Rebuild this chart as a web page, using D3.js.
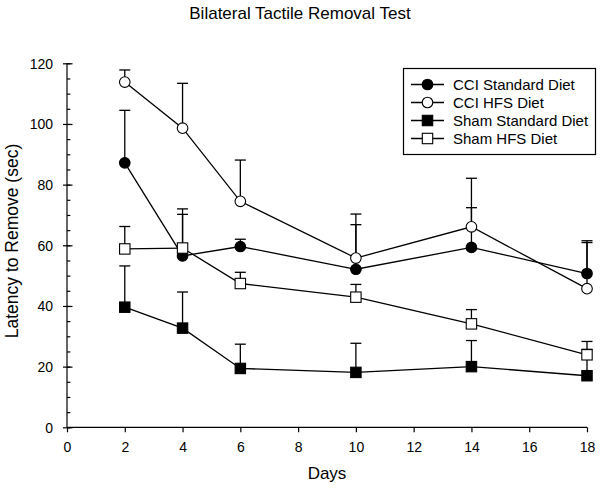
<!DOCTYPE html>
<html><head><meta charset="utf-8">
<script src="https://cdn.jsdelivr.net/npm/d3@7"></script>
<style>body{margin:0;background:#fff}svg{display:block;font-family:"Liberation Sans",Arial,sans-serif}</style>
</head><body><svg id="c" width="601" height="490"></svg>
<script>
const days = [2, 4, 6, 10, 14, 18];
const cciStandard = [87.2, 56.5, 59.6, 52.1, 59.3, 50.7];
const cciStandardErr = [17.3, 15.5, 2.4, 14.7, 13.1, 10.2];
const cciHfs = [113.8, 98.6, 74.5, 55.8, 66.1, 45.7];
const cciHfsErr = [4.0, 14.8, 13.6, 14.5, 16.0, 15.8];
const shamStandard = [39.6, 32.7, 19.4, 18.1, 20.0, 17.0];
const shamStandardErr = [13.6, 11.9, 8.0, 9.6, 8.6, 8.7];
const shamHfs = [58.8, 59.1, 47.4, 42.9, 34.1, 23.9];
const shamHfsErr = [7.4, 11.1, 3.7, 4.2, 4.7, 4.4];
const seriesNames = ["CCI Standard Diet", "CCI HFS Diet", "Sham Standard Diet", "Sham HFS Diet"];
const xTicks = [0, 2, 4, 6, 8, 10, 12, 14, 16, 18];
const yTicks = [0, 20, 40, 60, 80, 100, 120];
const yMinorTicks = d3.range(0, 121, 5);

const series = [
  {name: seriesNames[0], vals: cciStandard, err: cciStandardErr, shape: "circle", fill: "#000"},
  {name: seriesNames[1], vals: cciHfs, err: cciHfsErr, shape: "circle", fill: "#fff"},
  {name: seriesNames[2], vals: shamStandard, err: shamStandardErr, shape: "square", fill: "#000"},
  {name: seriesNames[3], vals: shamHfs, err: shamHfsErr, shape: "square", fill: "#fff"}
];

const svg = d3.select("#c");
const x = d3.scaleLinear().domain([0, 18]).range([67, 587]);
const y = d3.scaleLinear().domain([0, 120]).range([427.3, 63.3]);

// title
svg.append("text").attr("x", 300).attr("y", 19).attr("text-anchor", "middle")
  .attr("font-size", 17).text("Bilateral Tactile Removal Test");

// axes
const gx = svg.append("g").attr("transform", `translate(0,${y(0)})`)
  .call(d3.axisBottom(x).tickValues(xTicks).tickSize(5).tickPadding(10).tickFormat(d3.format("d")));
gx.select(".domain").attr("d", `M${x(0)},0H${x(18)}`);
gx.selectAll("text").attr("font-size", 14).attr("font-family", "Liberation Sans, Arial, sans-serif").attr("fill", "#000");

const gy = svg.append("g").attr("transform", `translate(${x(0)},0)`);
gy.call(d3.axisLeft(y).tickValues(yMinorTicks).tickSize(-3.3).tickFormat(""));
gy.select(".domain").remove();
const gy2 = svg.append("g").attr("transform", `translate(${x(0)},0)`)
  .call(d3.axisLeft(y).tickValues(yTicks).tickSize(4).tickPadding(10).tickFormat(d3.format("d")));
gy2.select(".domain").attr("d", `M0,${y(0)}V${y(120)}`);
gy2.selectAll(".tick line").attr("x2", 5.5).attr("x1", -4);
gy2.selectAll("text").attr("font-size", 14).attr("font-family", "Liberation Sans, Arial, sans-serif").attr("fill", "#000").attr("dy", "0.35em");
svg.selectAll(".tick line, .domain").attr("stroke", "#000").attr("stroke-width", 1.2);

// axis labels
svg.append("text").attr("x", 327).attr("y", 479).attr("text-anchor", "middle")
  .attr("font-size", 17).text("Days");
svg.append("text").attr("transform", `translate(18,241) rotate(-90)`).attr("text-anchor", "middle")
  .attr("font-size", 17.5).text("Latency to Remove (sec)");

const line = d3.line().x(d => x(d[0])).y(d => y(d[1]));

// lines
series.forEach(s => {
  svg.append("path").datum(days.map((d, i) => [d, s.vals[i]]))
    .attr("d", line).attr("fill", "none").attr("stroke", "#000").attr("stroke-width", 1.3);
});
// error bars (upper)
series.forEach(s => {
  const g = svg.append("g").attr("stroke", "#000").attr("stroke-width", 1.3);
  days.forEach((d, i) => {
    const top = y(s.vals[i] + s.err[i]);
    g.append("line").attr("x1", x(d)).attr("x2", x(d)).attr("y1", y(s.vals[i])).attr("y2", top);
    g.append("line").attr("x1", x(d) - 5.5).attr("x2", x(d) + 5.5).attr("y1", top).attr("y2", top);
  });
});
function marker(g, cx, cy, s) {
  if (s.shape === "circle") {
    g.append("circle").attr("cx", cx).attr("cy", cy).attr("r", 5.3)
      .attr("fill", s.fill).attr("stroke", "#000").attr("stroke-width", 1.1);
  } else {
    g.append("rect").attr("x", cx - 5.2).attr("y", cy - 5.2).attr("width", 10.4).attr("height", 10.4)
      .attr("fill", s.fill).attr("stroke", "#000").attr("stroke-width", 1.1);
  }
}
series.forEach(s => {
  const g = svg.append("g");
  days.forEach((d, i) => marker(g, x(d), y(s.vals[i]), s));
});

// legend
const lg = svg.append("g");
lg.append("rect").attr("x", 403.5).attr("y", 68.5).attr("width", 192).attr("height", 86)
  .attr("fill", "#fff").attr("stroke", "#000").attr("stroke-width", 1.2);
series.forEach((s, i) => {
  const ly = 84.5 + i * 18;
  lg.append("line").attr("x1", 411).attr("x2", 444).attr("y1", ly).attr("y2", ly)
    .attr("stroke", "#000").attr("stroke-width", 1.3);
  marker(lg, 427.5, ly, s);
  lg.append("text").attr("x", 453).attr("y", ly).attr("dy", "0.35em").attr("font-size", 15).text(s.name);
});
</script></body></html>
